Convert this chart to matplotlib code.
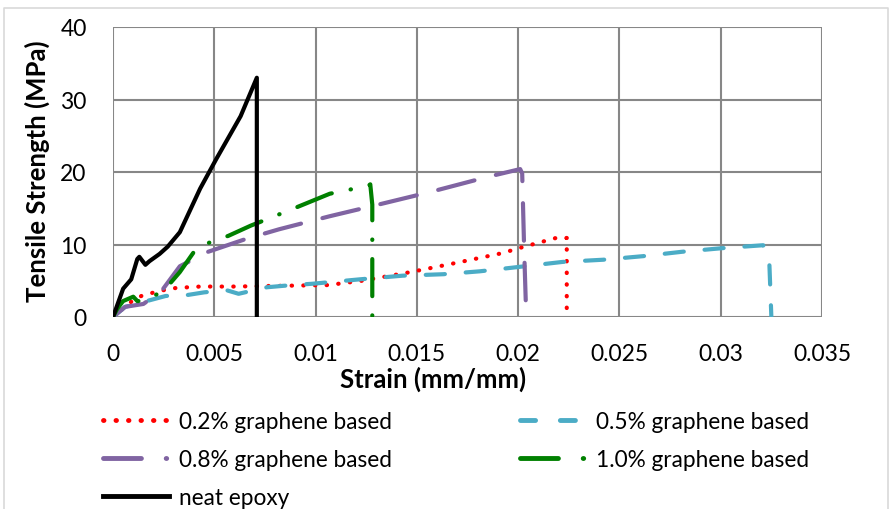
#!/usr/bin/env python3
# Tensile strength vs strain for graphene based epoxy samples
import matplotlib
matplotlib.use("Agg")
import matplotlib.pyplot as plt
from matplotlib.lines import Line2D

plt.rcParams["font.family"] = ["Lato", "DejaVu Sans"]

# strain (mm/mm) / stress (MPa)
strain_02 = [0, 0.0009, 0.0014, 0.0019, 0.0025, 0.0031, 0.0043, 0.0059, 0.0082, 0.0106,
             0.0123, 0.0147, 0.0170, 0.0192, 0.0203, 0.0220, 0.0224, 0.0224]
stress_02 = [0, 2.1, 2.9, 3.3, 3.7, 4.0, 4.2, 4.2, 4.3, 4.4,
             5.0, 6.2, 7.5, 8.8, 9.7, 11.0, 10.9, 1.0]

strain_05 = [0, 0.0006, 0.0026, 0.0036, 0.0045, 0.0056, 0.0062, 0.0076, 0.0084, 0.0099,
             0.0122, 0.0143, 0.0163, 0.0181, 0.0197, 0.0222, 0.0242, 0.0262, 0.0281,
             0.0301, 0.0321, 0.0324, 0.0325]
stress_05 = [0, 1.4, 2.9, 3.0, 3.4, 3.7, 3.2, 4.1, 4.3, 4.6,
             5.2, 5.7, 5.9, 6.3, 6.8, 7.6, 7.9, 8.4, 9.0,
             9.5, 9.9, 7.5, 0]

strain_08 = [0, 0.0006, 0.0015, 0.0024, 0.0033, 0.0047, 0.0066, 0.0082, 0.0107, 0.0128,
             0.0156, 0.0186, 0.0201, 0.0202, 0.0203, 0.0204]
stress_08 = [0, 1.4, 1.8, 3.6, 7.0, 9.0, 10.8, 12.1, 13.9, 15.3,
             17.2, 19.4, 20.4, 19.8, 9.0, 0]

strain_10 = [0, 0.0002, 0.0005, 0.0010, 0.0012, 0.0015, 0.0025, 0.0033, 0.0041, 0.0046,
             0.0057, 0.0068, 0.0086, 0.0107, 0.0126, 0.0127, 0.0128, 0.0128]
stress_10 = [0, 1.1, 2.2, 2.8, 2.2, 2.2, 3.6, 6.2, 9.4, 10.1,
             11.2, 12.6, 14.6, 17.0, 18.1, 18.3, 15.5, 0]

strain_neat = [0, 0.0005, 0.0009, 0.0012, 0.0013, 0.0016, 0.0018, 0.0023, 0.0027, 0.0033,
               0.0043, 0.0051, 0.0063, 0.0071, 0.0071]
stress_neat = [0, 3.9, 5.2, 8.0, 8.3, 7.2, 7.7, 8.7, 9.7, 11.7,
               17.7, 21.8, 27.7, 33.0, 0]

labels = ["0.2% graphene based", "0.5% graphene based", "0.8% graphene based",
          "1.0% graphene based", "neat epoxy"]
colors = ["#ff0000", "#4bacc6", "#8064a2", "#008000", "black"]
xticks = [0, 0.005, 0.01, 0.015, 0.02, 0.025, 0.03, 0.035]
xticklabels = ["0", "0.005", "0.01", "0.015", "0.02", "0.025", "0.03", "0.035"]
yticks = [0, 10, 20, 30, 40]

FS = 16.5      # tick labels
FS_LAB = 18.5  # axis titles
FS_LEG = 16.3
W, H = 896, 510

fig = plt.figure(figsize=(W / 100, H / 100), dpi=100)
# light frame round the chart
fig.add_artist(Line2D([4 / W, 4 / W, 888 / W, 888 / W], [0, 1 - 9 / H, 1 - 9 / H, 0],
                      transform=fig.transFigure, color="#d9d9d9", lw=1.2))
ax = fig.add_axes([113 / W, 1 - 318 / H, (822 - 113) / W, (318 - 28) / H])

lw = 3
ax.plot(strain_02, stress_02, color=colors[0], lw=lw, linestyle=(0, (0.1, 2.7)),
        dash_capstyle="round")
ax.plot(strain_05, stress_05, color=colors[1], lw=lw, linestyle=(0, (4.6, 5.0)),
        dash_capstyle="round")
ax.plot(strain_08, stress_08, color=colors[2], lw=lw, linestyle=(0, (9.0, 5.3)),
        dash_capstyle="round")
ax.plot(strain_10, stress_10, color=colors[3], lw=lw, linestyle=(0, (8.9, 4.6, 0.1, 4.6)),
        dash_capstyle="round")
ax.plot(strain_neat, stress_neat, color=colors[4], lw=lw, solid_capstyle="round",
        solid_joinstyle="round")

ax.set_xlim(0, 0.035)
ax.set_ylim(0, 40)
ax.set_xticks(xticks)
ax.set_xticklabels(xticklabels)
ax.set_yticks(yticks)
ax.tick_params(axis="x", length=0, labelsize=FS, pad=19)
ax.tick_params(axis="y", length=0, labelsize=FS, pad=19)
ax.grid(True, color="#878787", linewidth=1.5)
ax.set_axisbelow(True)
for s in ax.spines.values():
    s.set_visible(False)

fig.text(433 / W, 1 - 379 / H, "Strain (mm/mm)", ha="center", va="center",
         fontsize=FS_LAB, fontweight="bold")
fig.text(37 / W, 1 - 171 / H, "Tensile Strength (MPa)", ha="center", va="center",
         rotation=90, fontsize=FS_LAB, fontweight="bold")

# legend handles drawn with shorter dashes, like the original
llw = 3.5
leg_styles = [(0, (0.1, 2.47)), (0, (3.1, 5.1)), (0, (7.8, 5.1, 0.1, 20)),
              (0, (7.8, 5.1, 0.1, 20)), "-"]
handles = [Line2D([], [], color=c, lw=llw, linestyle=st, dash_capstyle="round")
           for c, st in zip(colors, leg_styles)]

leg_kw = dict(frameon=False, fontsize=FS_LEG, handlelength=2.92, handletextpad=0.44,
              labelspacing=0.75, borderaxespad=0, borderpad=0)
fig.legend([handles[i] for i in (0, 2, 4)], [labels[i] for i in (0, 2, 4)],
           loc="upper left", bbox_to_anchor=(103 / W, 1 - 412 / H), **leg_kw)
fig.legend([handles[i] for i in (1, 3)], [labels[i] for i in (1, 3)],
           loc="upper left", bbox_to_anchor=(520 / W, 1 - 412 / H), **leg_kw)

fig.savefig("out.png", dpi=100)
